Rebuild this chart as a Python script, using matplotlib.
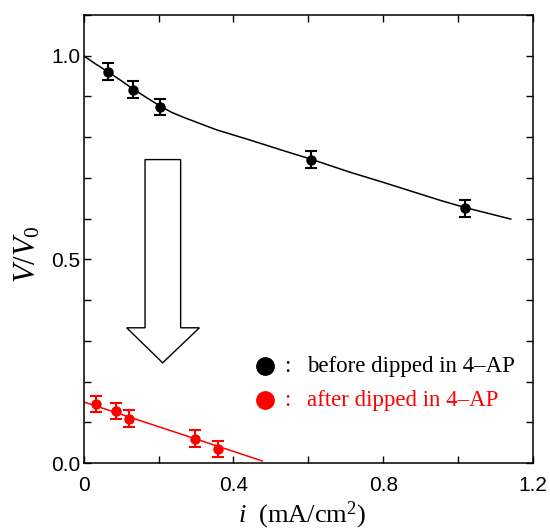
import matplotlib
matplotlib.use("Agg")
import matplotlib.pyplot as plt
from matplotlib.patches import Polygon

plt.rcParams["font.family"] = ["Liberation Sans", "DejaVu Sans"]
plt.rcParams["mathtext.fontset"] = "custom"
plt.rcParams["mathtext.rm"] = "Liberation Serif"
plt.rcParams["mathtext.it"] = "Liberation Serif:italic"

# measured points, before dipping in 4-AP
before_i = [0.064, 0.131, 0.205, 0.607, 1.019]
before_v = [0.961, 0.917, 0.874, 0.745, 0.625]
before_err = [0.02, 0.02, 0.02, 0.02, 0.02]

# fitted curve through the "before" data
before_fit_i = [0.0, 0.03, 0.064, 0.10, 0.131, 0.17, 0.205, 0.235, 0.266, 0.355,
                0.444, 0.533, 0.607, 0.711, 0.80, 0.955, 1.019, 1.14]
before_fit_v = [1.0, 0.981, 0.961, 0.939, 0.919, 0.896, 0.876, 0.861, 0.849, 0.818,
                0.793, 0.767, 0.746, 0.714, 0.689, 0.644, 0.627, 0.599]

# measured points, after dipping in 4-AP
after_i = [0.033, 0.086, 0.121, 0.296, 0.360]
after_v = [0.145, 0.128, 0.109, 0.060, 0.034]
after_err = [0.02, 0.02, 0.02, 0.02, 0.02]

# linear fit for the "after" data
after_fit_i = [0.0, 0.477]
after_fit_v = [0.150, 0.005]

legend_labels = ["before dipped in 4\u2013AP", "after dipped in 4\u2013AP"]
colors = ["black", "red"]

fig = plt.figure(figsize=(5.5, 5.3), dpi=100)
ax = fig.add_axes([0.152, 0.1264, 0.8175, 0.8453])

ax.plot(before_fit_i, before_fit_v, color=colors[0], lw=1.1)
ax.errorbar(before_i, before_v, yerr=before_err, fmt="o", color=colors[0],
            ms=6.5, elinewidth=1.5, capsize=4, capthick=1.5)

ax.plot(after_fit_i, after_fit_v, color=colors[1], lw=1.1)
ax.errorbar(after_i, after_v, yerr=after_err, fmt="o", color=colors[1],
            ms=6.5, elinewidth=1.5, capsize=4, capthick=1.5)

# hollow block arrow pointing from the upper curve to the lower one
arrow = Polygon([(0.164, 0.745), (0.259, 0.745), (0.259, 0.332), (0.309, 0.332),
                 (0.211, 0.246), (0.115, 0.332), (0.164, 0.332)],
                closed=True, facecolor="white", edgecolor="black", lw=1.0)
ax.add_patch(arrow)

# hand-made legend: marker, colon, description
for k, (lab, c) in enumerate(zip(legend_labels, colors)):
    y = 0.2165 - k * 0.076
    ax.plot([0.404], [y], "o", color=c, ms=12.5, transform=ax.transAxes, clip_on=False)
    ax.text(0.4527, y, ":", color=c, transform=ax.transAxes, va="center", ha="center",
            fontsize=16.5, family="Liberation Serif")
    ax.text(0.497, y, lab, color=c, transform=ax.transAxes, va="center", ha="left",
            fontsize=16.5, family="Liberation Serif")

ax.set_xlim(0, 1.2)
ax.set_ylim(0, 1.1)
ax.set_xticks([0, 0.4, 0.8, 1.2])
ax.set_xticklabels(["0", "0.4", "0.8", "1.2"])
ax.set_xticks([0.2, 0.6, 1.0], minor=True)
ax.set_yticks([0.0, 0.5, 1.0])
ax.set_yticklabels(["0.0", "0.5", "1.0"])
ax.set_yticks([0.1, 0.2, 0.3, 0.4, 0.6, 0.7, 0.8, 0.9, 1.1], minor=True)
ax.tick_params(which="both", direction="in", top=True, right=True,
               length=5, width=1.0, labelsize=15)
ax.tick_params(axis="x", pad=9)
ax.tick_params(axis="y", pad=2.5)
for s in ax.spines.values():
    s.set_linewidth(1.1)

ax.set_xlabel(r"$i$  (mA/cm$^2$)", fontsize=19, family="Liberation Serif",
              va="baseline")
ax.xaxis.set_label_coords(0.486, -0.132)
ax.set_ylabel(r"$V$/$V_0$", fontsize=22, family="Liberation Serif",
              va="center", ha="center")
ax.yaxis.set_label_coords(-0.125, 0.466)

fig.savefig("out.png", dpi=100)
